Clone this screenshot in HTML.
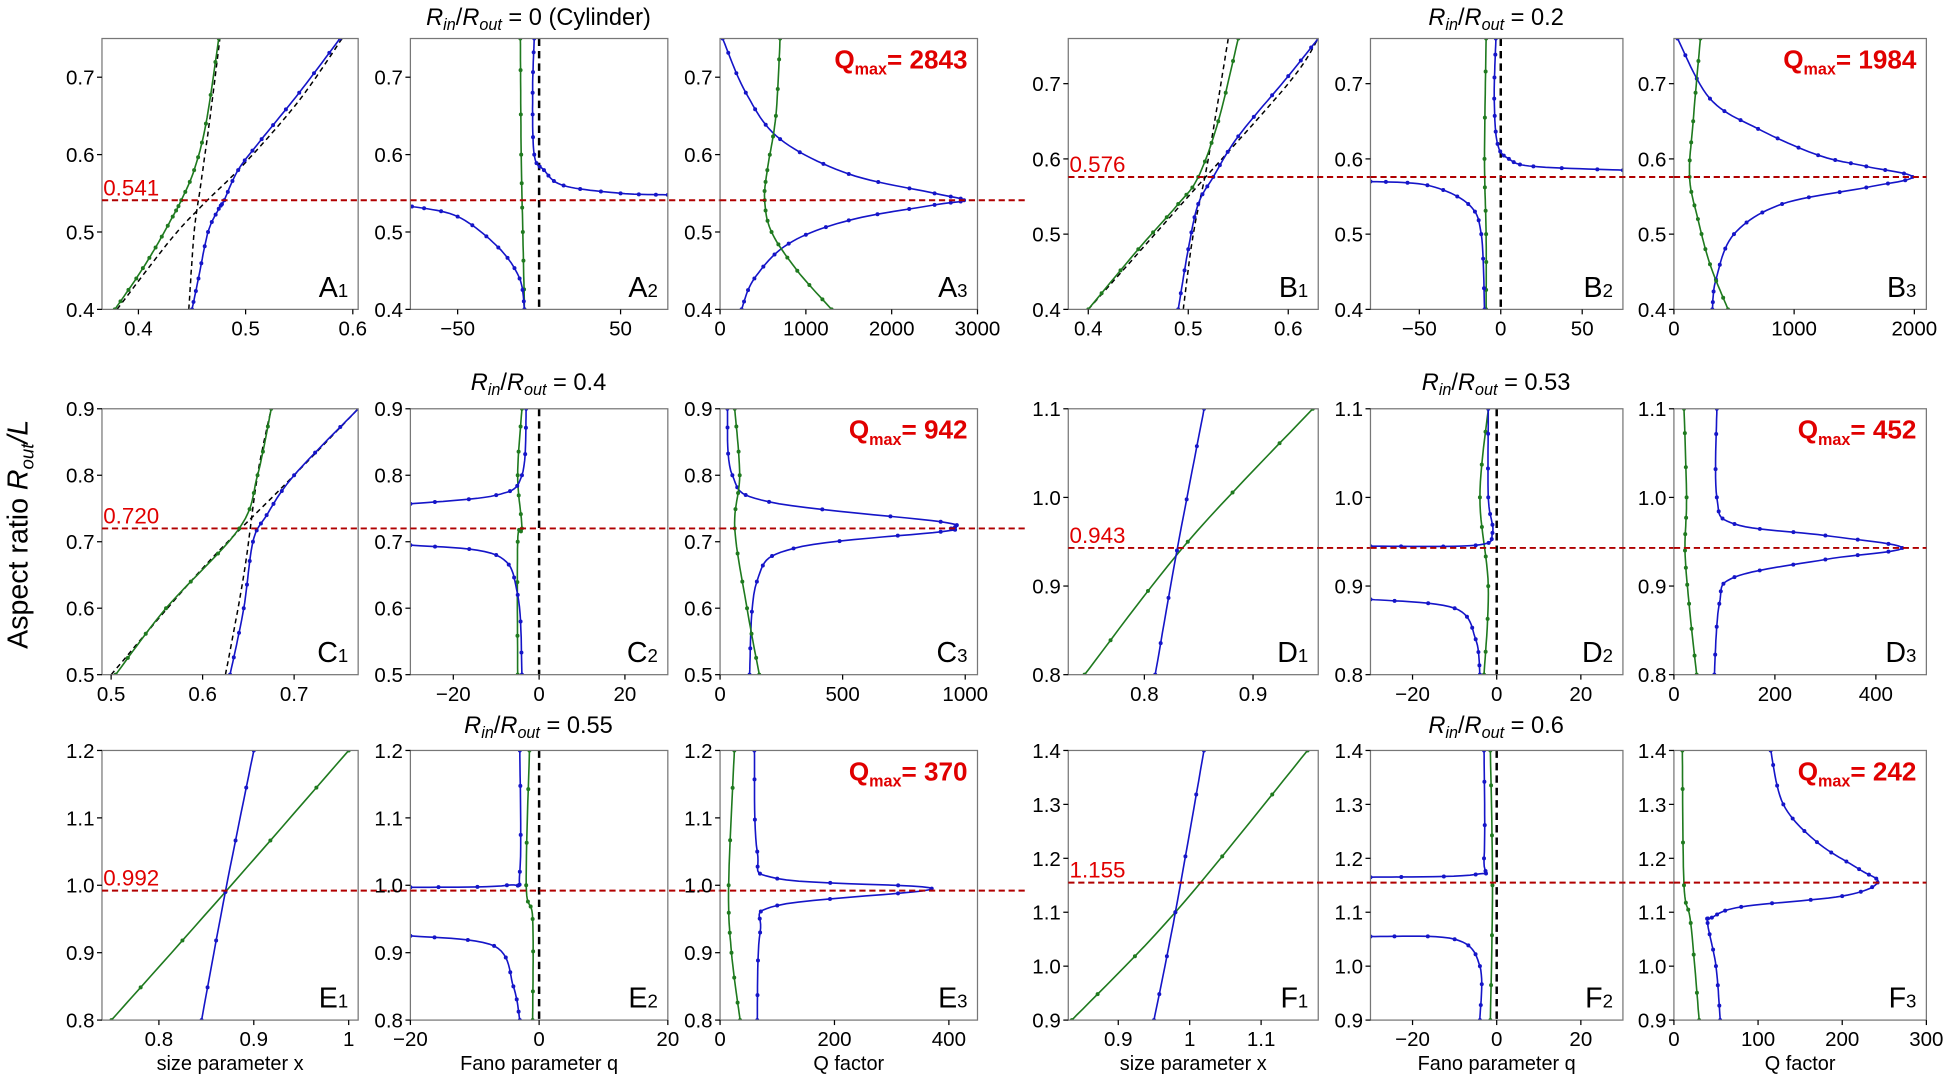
<!DOCTYPE html>
<html><head><meta charset="utf-8"><style>
html,body{margin:0;padding:0;background:#fff;}
svg{display:block;font-family:"Liberation Sans","DejaVu Sans",sans-serif;}
</style></head><body>
<svg id="s" width="1950" height="1076" viewBox="0 0 1568 866" preserveAspectRatio="none" xmlns="http://www.w3.org/2000/svg"></svg>
<script>
const S=document.getElementById('s');let out='';
const G='#1f7a1f',B='#1515c8';
function spline(P){ // catmull-rom sampled
 const r=[];for(let i=0;i<P.length-1;i++){const p0=P[Math.max(i-1,0)],p1=P[i],p2=P[i+1],p3=P[Math.min(i+2,P.length-1)];
  for(let k=0;k<12;k++){const t=k/12,t2=t*t,t3=t2*t;
   const f=(a,b,c,d)=>0.5*((2*b)+(-a+c)*t+(2*a-5*b+4*c-d)*t2+(-a+3*b-3*c+d)*t3);
   r.push([f(p0[0],p1[0],p2[0],p3[0]),f(p0[1],p1[1],p2[1],p3[1])]);}}
 r.push(P[P.length-1]);return r;}
function panel(p){
 const [x0,y0,x1,y1]=p.box,[xa,xb]=p.xr,[ya,yb]=p.yr;
 const X=v=>x0+(v-xa)/(xb-xa)*(x1-x0),Y=v=>y1-(v-ya)/(yb-ya)*(y1-y0);
 out+=`<clipPath id="c${p.id}"><rect x="${x0}" y="${y0}" width="${x1-x0}" height="${y1-y0}"/></clipPath><g clip-path="url(#c${p.id})">`;
 (p.dash||[]).forEach(d=>{const pp=spline(d.map(q=>[X(q[0]),Y(q[1])]));out+=`<polyline fill="none" stroke="#000" stroke-width="1.2" stroke-dasharray="4,3" points="${pp.map(q=>q[0].toFixed(1)+','+q[1].toFixed(1)).join(' ')}"/>`;});
 if(p.v!==undefined)out+=`<line x1="${X(p.v)}" x2="${X(p.v)}" y1="${y0}" y2="${y1}" stroke="#000" stroke-width="2" stroke-dasharray="6,4"/>`;
 (p.s||[]).forEach(sr=>{const c=sr[0],pts=sr.slice(1).map(q=>[X(q[0]),Y(q[1])]);const sp=spline(pts);
  out+=`<polyline fill="none" stroke="${c}" stroke-width="1.3" points="${sp.map(q=>q[0].toFixed(1)+','+q[1].toFixed(1)).join(' ')}"/>`;
  for(let i=0;i<sp.length;i+=4){out+=`<circle cx="${sp[i][0].toFixed(1)}" cy="${sp[i][1].toFixed(1)}" r="1.6" fill="${c}"/>`;}
 });
 out+=`</g>`;
 out+=`<rect x="${x0}" y="${y0}" width="${x1-x0}" height="${y1-y0}" fill="none" stroke="#777" stroke-width="1"/>`;
 if(p.h!==undefined){out+=`<line x1="${x0}" x2="${p.hx2||x1+42}" y1="${Y(p.h)}" y2="${Y(p.h)}" stroke="#b00000" stroke-width="1.6" stroke-dasharray="5,3"/>`;
  if(p.hl)out+=`<text x="${x0+1}" y="${Y(p.h)-4}" font-size="18" fill="#e00000">${p.hl}</text>`;}
 p.xt.forEach(t=>{const xx=X(t);out+=`<line x1="${xx}" x2="${xx}" y1="${y1}" y2="${y1+4}" stroke="#000"/><text x="${xx}" y="${y1+21}" font-size="16.5" text-anchor="middle">${t<0?'\u2212'+(-t):t}</text>`;});
 p.yt.forEach(t=>{const yy=Y(t);out+=`<line x1="${x0-4}" x2="${x0}" y1="${yy}" y2="${yy}" stroke="#000"/><text x="${x0-6}" y="${yy+6}" font-size="16.5" text-anchor="end">${t.toFixed(1)}</text>`;});
 out+=`<text x="${x1-8}" y="${y1-10}" font-size="23" text-anchor="end">${p.L}<tspan font-size="15">${p.n}</tspan></text>`;
 if(p.q)out+=`<text x="${x1-8}" y="${y0+24}" font-size="21" font-weight="bold" fill="#e00000" text-anchor="end">Q<tspan font-size="13" dy="5">max</tspan><tspan dy="-5">= ${p.q}</tspan></text>`;
 if(p.xl)out+=`<text x="${(x0+x1)/2}" y="${y1+40}" font-size="16" text-anchor="middle">${p.xl}</text>`;
}
const R=[[31,249],[329,543],[604,821]];
const CL=[[82,288],[330,537],[579,786]],CR=[[859,1060],[1102,1305],[1346,1549]];
function bx(c,r){return [c[0],R[r][0],c[1],R[r][1]];}
let id=0;
function P(o){o.id=id++;panel(o);}
P({box:bx(CL[0],0),xr:[0.366,0.605],yr:[0.4,0.75],xt:[0.4,0.5,0.6],yt:[0.4,0.5,0.6,0.7],L:'A',n:'1',h:0.541,hl:'0.541',
 dash:[[[0.38,0.4],[0.43,0.49],[0.46,0.535],[0.5,0.59],[0.55,0.67],[0.59,0.75]],[[0.447,0.4],[0.452,0.5],[0.458,0.56],[0.467,0.65],[0.476,0.75]]],
 s:[[G,[0.378,0.4],[0.398,0.44],[0.416,0.48],[0.432,0.52],[0.44,0.541],[0.452,0.58],[0.463,0.64],[0.475,0.75]],[B,[0.45,0.4],[0.456,0.44],[0.465,0.5],[0.475,0.53],[0.48,0.541],[0.493,0.58],[0.515,0.62],[0.55,0.68],[0.588,0.75]]]});
P({box:bx(CL[1],0),xr:[-79,79],yr:[0.4,0.75],xt:[-50,50],yt:[0.4,0.5,0.6,0.7],L:'A',n:'2',h:0.541,v:0,
 s:[[G,[-9,0.4],[-10,0.5],[-11,0.6],[-11.5,0.75]],[B,[-78,0.533],[-50,0.52],[-25,0.48],[-12,0.44],[-9,0.4]],[B,[79,0.548],[50,0.55],[15,0.56],[3,0.58],[-3,0.6],[-4,0.68],[-3,0.75]]]});
P({box:bx(CL[2],0),xr:[0,3000],yr:[0.4,0.75],xt:[0,1000,2000,3000],yt:[0.4,0.5,0.6,0.7],L:'A',n:'3',h:0.541,hx2:CL[2][1]+40,q:2843,
 s:[[B,[30,0.75],[300,0.68],[700,0.62],[1500,0.575],[2500,0.55],[2843,0.541],[2500,0.535],[1500,0.515],[800,0.485],[400,0.44],[250,0.4]],[G,[700,0.75],[650,0.65],[550,0.58],[520,0.541],[600,0.5],[900,0.45],[1300,0.4]]]});
P({box:bx(CR[0],0),xr:[0.38,0.63],yr:[0.4,0.76],xt:[0.4,0.5,0.6],yt:[0.4,0.5,0.6,0.7],L:'B',n:'1',h:0.576,hl:'0.576',
 dash:[[[0.4,0.4],[0.5,0.55],[0.6,0.7],[0.63,0.76]],[[0.495,0.4],[0.505,0.5],[0.52,0.6],[0.54,0.76]]],
 s:[[G,[0.4,0.4],[0.45,0.48],[0.49,0.54],[0.51,0.576],[0.53,0.65],[0.55,0.76]],[B,[0.49,0.4],[0.5,0.48],[0.51,0.54],[0.525,0.576],[0.55,0.63],[0.6,0.71],[0.63,0.76]]]});
P({box:bx(CR[1],0),xr:[-80,75],yr:[0.4,0.76],xt:[-50,0,50],yt:[0.4,0.5,0.6,0.7],L:'B',n:'2',h:0.576,v:0,
 s:[[G,[-9,0.4],[-9,0.5],[-10,0.6],[-9,0.76]],[B,[-80,0.57],[-45,0.565],[-20,0.54],[-12,0.5],[-10,0.4]],[B,[75,0.585],[20,0.59],[5,0.6],[-2,0.62],[-4,0.68],[-3,0.76]]]});
P({box:bx(CR[2],0),xr:[0,2100],yr:[0.4,0.76],xt:[0,1000,2000],yt:[0.4,0.5,0.6,0.7],L:'B',n:'3',h:0.576,hx2:CR[2][1],q:1984,
 s:[[B,[30,0.76],[300,0.68],[700,0.64],[1200,0.605],[1600,0.59],[1984,0.576],[1600,0.562],[900,0.54],[500,0.5],[350,0.44],[320,0.4]],[G,[220,0.76],[160,0.65],[130,0.576],[200,0.52],[300,0.46],[450,0.4]]]});
P({box:bx(CL[0],1),xr:[0.49,0.77],yr:[0.5,0.9],xt:[0.5,0.6,0.7],yt:[0.5,0.6,0.7,0.8,0.9],L:'C',n:'1',h:0.72,hl:'0.720',
 dash:[[[0.5,0.5],[0.6,0.66],[0.7,0.8],[0.77,0.9]],[[0.625,0.5],[0.645,0.65],[0.66,0.8],[0.675,0.9]]],
 s:[[G,[0.505,0.5],[0.56,0.6],[0.64,0.72],[0.66,0.8],[0.675,0.9]],[B,[0.63,0.5],[0.645,0.6],[0.655,0.7],[0.67,0.74],[0.7,0.8],[0.77,0.9]]]});
P({box:bx(CL[1],1),xr:[-30,30],yr:[0.5,0.9],xt:[-20,0,20],yt:[0.5,0.6,0.7,0.8,0.9],L:'C',n:'2',h:0.72,v:0,
 s:[[G,[-5,0.5],[-5,0.7],[-4,0.72],[-5,0.8],[-4,0.9]],[B,[-30,0.757],[-10,0.77],[-4,0.8],[-3,0.9]],[B,[-30,0.695],[-10,0.68],[-5,0.62],[-4,0.5]]]});
P({box:bx(CL[2],1),xr:[0,1050],yr:[0.5,0.9],xt:[0,500,1000],yt:[0.5,0.6,0.7,0.8,0.9],L:'C',n:'3',h:0.72,hx2:CL[2][1]+40,q:942,
 s:[[B,[30,0.9],[50,0.8],[200,0.76],[900,0.73],[942,0.72],[900,0.715],[300,0.69],[150,0.64],[120,0.5]],[G,[60,0.9],[80,0.8],[60,0.72],[110,0.6],[160,0.5]]]});
P({box:bx(CR[0],1),xr:[0.73,0.96],yr:[0.8,1.1],xt:[0.8,0.9],yt:[0.8,0.9,1.0,1.1],L:'D',n:'1',h:0.943,hl:'0.943',
 s:[[G,[0.745,0.8],[0.84,0.95],[0.955,1.1]],[B,[0.81,0.8],[0.83,0.94],[0.855,1.1]]]});
P({box:bx(CR[1],1),xr:[-30,30],yr:[0.8,1.1],xt:[-20,0,20],yt:[0.8,0.9,1.0,1.1],L:'D',n:'2',h:0.943,v:0,
 s:[[G,[-3,0.8],[-2,0.9],[-4,1.0],[-2,1.1]],[B,[-30,0.885],[-10,0.875],[-5,0.84],[-4,0.8]],[B,[-30,0.945],[-5,0.946],[-1,0.96],[-2,1.0],[-2,1.1]]]});
P({box:bx(CR[2],1),xr:[0,500],yr:[0.8,1.1],xt:[0,200,400],yt:[0.8,0.9,1.0,1.1],L:'D',n:'3',h:0.943,hx2:CR[2][1],q:452,
 s:[[B,[85,1.1],[85,1.0],[120,0.97],[300,0.957],[452,0.943],[300,0.93],[120,0.91],[90,0.88],[80,0.8]],[G,[20,1.1],[25,1.0],[22,0.94],[30,0.88],[45,0.8]]]});
P({box:bx(CL[0],2),xr:[0.74,1.01],yr:[0.8,1.2],xt:[0.8,0.9,1.0],yt:[0.8,0.9,1.0,1.1,1.2],L:'E',n:'1',h:0.992,hl:'0.992',xl:'size parameter x',
 s:[[G,[0.75,0.8],[0.87,0.99],[1.0,1.2]],[B,[0.845,0.8],[0.87,0.99],[0.9,1.2]]]});
P({box:bx(CL[1],2),xr:[-20,20],yr:[0.8,1.2],xt:[-20,0,20],yt:[0.8,0.9,1.0,1.1,1.2],L:'E',n:'2',h:0.992,v:0,xl:'Fano parameter q',
 s:[[G,[-1.5,1.2],[-2,1.0],[-1,0.95],[-1,0.8]],[B,[-20,0.997],[-5,1.0],[-3,1.02],[-3,1.2]],[B,[-20,0.925],[-7,0.91],[-4,0.85],[-3,0.8]]]});
P({box:bx(CL[2],2),xr:[0,450],yr:[0.8,1.2],xt:[0,200,400],yt:[0.8,0.9,1.0,1.1,1.2],L:'E',n:'3',h:0.992,hx2:CL[2][1]+40,q:370,xl:'Q factor',
 s:[[B,[60,1.2],[65,1.05],[100,1.01],[370,0.995],[100,0.97],[70,0.93],[65,0.8]],[G,[25,1.2],[15,1.0],[20,0.9],[35,0.8]]]});
P({box:bx(CR[0],2),xr:[0.83,1.18],yr:[0.9,1.4],xt:[0.9,1.0,1.1],yt:[0.9,1.0,1.1,1.2,1.3,1.4],L:'F',n:'1',h:1.155,hl:'1.155',xl:'size parameter x',
 s:[[G,[0.835,0.9],[0.98,1.1],[1.165,1.4]],[B,[0.95,0.9],[0.98,1.1],[1.02,1.4]]]});
P({box:bx(CR[1],2),xr:[-30,30],yr:[0.9,1.4],xt:[-20,0,20],yt:[0.9,1.0,1.1,1.2,1.3,1.4],L:'F',n:'2',h:1.155,v:0,xl:'Fano parameter q',
 s:[[G,[-1.5,1.4],[-1,1.15],[-1.5,0.9]],[B,[-30,1.165],[-5,1.17],[-3,1.2],[-3,1.4]],[B,[-30,1.055],[-10,1.05],[-4,1.0],[-4,0.9]]]});
P({box:bx(CR[2],2),xr:[0,300],yr:[0.9,1.4],xt:[0,100,200,300],yt:[0.9,1.0,1.1,1.2,1.3,1.4],L:'F',n:'3',h:1.155,hx2:CR[2][1],q:242,xl:'Q factor',
 s:[[B,[115,1.4],[130,1.3],[170,1.23],[220,1.18],[242,1.155],[200,1.13],[80,1.11],[45,1.09],[40,1.08],[50,1.0],[55,0.9]],[G,[10,1.4],[12,1.15],[20,1.08],[30,0.9]]]});
function T(x,y,v,extra){out+=`<text x="${x}" y="${y}" font-size="19" text-anchor="middle"><tspan font-style="italic">R</tspan><tspan font-style="italic" font-size="13" dy="4">in</tspan><tspan dy="-4">/</tspan><tspan font-style="italic">R</tspan><tspan font-style="italic" font-size="13" dy="4">out</tspan><tspan dy="-4"> = ${v}${extra||''}</tspan></text>`;}
T(433,20,'0','  (Cylinder)');T(1203,20,'0.2');
T(433,314,'0.4');T(1203,314,'0.53');
T(433,590,'0.55');T(1203,590,'0.6');
out+=`<text transform="translate(22,430) rotate(-90)" font-size="23" text-anchor="middle">Aspect ratio <tspan font-style="italic">R</tspan><tspan font-style="italic" font-size="15" dy="5">out</tspan><tspan dy="-5" font-style="italic">/L</tspan></text>`;
S.innerHTML=out;
</script>
</body></html>
